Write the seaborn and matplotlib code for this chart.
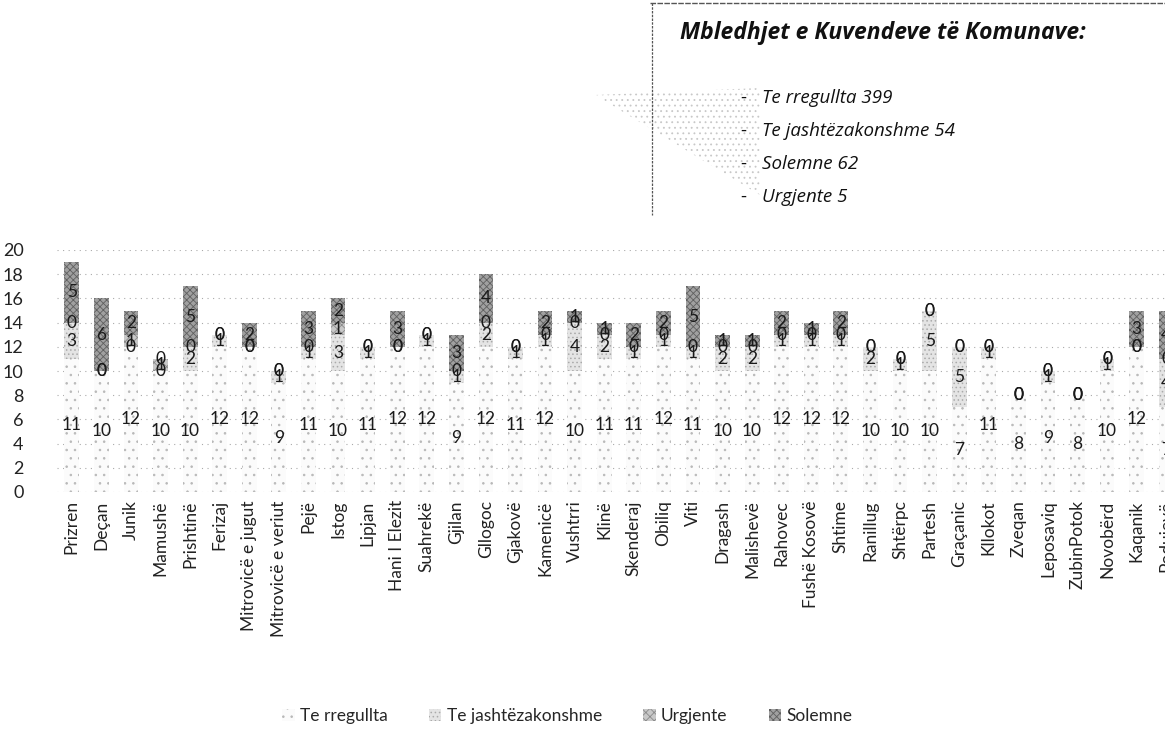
import numpy as np
import pandas as pd
import matplotlib.pyplot as plt
import seaborn as sns
from matplotlib.patches import Patch, Polygon
from matplotlib.lines import Line2D

komunat = ['Prizren', 'Deçan', 'Junik', 'Mamushë', 'Prishtinë', 'Ferizaj',
           'Mitrovicë e jugut', 'Mitrovicë e veriut', 'Pejë', 'Istog', 'Lipjan',
           'Hani I Elezit', 'Suahrekë', 'Gjilan', 'Gllogoc', 'Gjakovë', 'Kamenicë',
           'Vushtrri', 'Klinë', 'Skenderaj', 'Obiliq', 'Viti', 'Dragash',
           'Malishevë', 'Rahovec', 'Fushë Kosovë', 'Shtime', 'Ranillug', 'Shtërpc',
           'Partesh', 'Graçanic', 'Kllokot', 'Zveqan', 'Leposaviq', 'ZubinPotok',
           'Novobërd', 'Kaqanik', 'Podujevë']
te_rregullta = [11, 10, 12, 10, 10, 12, 12, 9, 11, 10, 11, 12, 12, 9, 12, 11, 12,
                10, 11, 11, 12, 11, 10, 10, 12, 12, 12, 10, 10, 10, 7, 11, 8, 9, 8,
                10, 12, 7]
te_jashtezakonshme = [3, 0, 0, 0, 2, 1, 0, 1, 1, 3, 1, 0, 1, 1, 2, 1, 1, 4, 2, 1,
                      1, 1, 2, 2, 1, 1, 1, 2, 1, 5, 5, 1, 0, 1, 0, 1, 0, 4]
urgjente = [0, 0, 1, 1, 0, 0, 0, 0, 0, 1, 0, 0, 0, 0, 0, 0, 0, 0, 0, 0, 0, 0, 0,
            0, 0, 0, 0, 0, 0, 0, 0, 0, 0, 0, 0, 0, 0, 0]
solemne = [5, 6, 2, 0, 5, 0, 2, 0, 3, 2, 0, 3, 0, 3, 4, 0, 2, 1, 1, 2, 2, 5, 1, 1,
           2, 1, 2, 0, 0, 0, 0, 0, 0, 0, 0, 0, 3, 4]

emrat = ['Te rregullta', 'Te jashtëzakonshme', 'Urgjente', 'Solemne']
ngjyrat = ['#fbfbfb', '#e4e4e4', '#c8c8c8', '#a0a0a0']
hatch_ngjyra = ['#b8b8b8', '#aaaaaa', '#8a8a8a', '#606060']
hatches = ['..', '....', 'xxxx', 'xxxxx']

df = pd.DataFrame({'komuna': komunat, 'Te rregullta': te_rregullta,
                   'Te jashtëzakonshme': te_jashtezakonshme,
                   'Urgjente': urgjente, 'Solemne': solemne})
cum = df[emrat].cumsum(axis=1)

sns.set_theme(style='white')
plt.rcParams['font.family'] = ['Lato', 'DejaVu Sans']
plt.rcParams['hatch.linewidth'] = 0.6

fig = plt.figure(figsize=(11.65, 7.31), dpi=100)
ax = fig.add_axes([57 / 1165, 1 - 492 / 731, 1124 / 1165, 242 / 731])

# stacked bars: draw cumulative totals from the top series down
for i in range(len(emrat) - 1, -1, -1):
    sns.barplot(x=df['komuna'], y=cum[emrat[i]], ax=ax, color=ngjyrat[i],
                width=0.5, edgecolor=hatch_ngjyra[i], linewidth=0,
                hatch=hatches[i], saturation=1, order=komunat)

# value labels at the middle of each segment
for j in range(len(komunat)):
    fund = 0
    for i, s in enumerate(emrat):
        v = df[s][j]
        ax.text(j, fund + v / 2, str(v), ha='center', va='center',
                fontsize=12.5, color='#1a1a1a')
        fund += v

ax.set_ylim(0, 20)
ax.set_xlim(-0.5, len(komunat) - 0.5)
ax.set_yticks(np.arange(0, 21, 2))
ax.set_xlabel('')
ax.set_ylabel('')
ax.set_xticks(range(len(komunat)))
ax.set_xticklabels(komunat, rotation=90, fontsize=12.5, color='#222222')
ax.tick_params(axis='y', labelsize=13, pad=24, colors='#222222', length=0)
ax.tick_params(axis='x', pad=6, length=0)
for lbl in ax.get_yticklabels():
    lbl.set_horizontalalignment('right')
sns.despine(ax=ax, left=True, bottom=True)
ax.yaxis.grid(True, linestyle=(0, (1, 4)), color='#aaaaaa', linewidth=0.8)
ax.set_axisbelow(True)

# legend at the bottom
handles = [Patch(facecolor=ngjyrat[i], edgecolor=hatch_ngjyra[i], hatch=hatches[i],
                 linewidth=0, label=emrat[i]) for i in range(4)]
fig.legend(handles=handles, loc='center', bbox_to_anchor=(0.487, 0.02), ncol=4,
           frameon=False, fontsize=12.5, handlelength=0.7, handleheight=0.7,
           handletextpad=0.3, columnspacing=2.4)

# note box in the top right
fig.add_artist(Line2D([650 / 1165, 1.0], [0.996, 0.996], color='#555555',
                      lw=1, linestyle=(0, (4, 1))))
fig.add_artist(Line2D([652 / 1165, 652 / 1165], [0.996, 1 - 215 / 731],
                      color='#555555', lw=0.9, linestyle=(0, (2, 1))))
fig.add_artist(Polygon([[595 / 1165, 1 - 95 / 731], [760 / 1165, 1 - 88 / 731],
                        [760 / 1165, 1 - 195 / 731]], closed=True,
                       transform=fig.transFigure, facecolor='none',
                       edgecolor='#c8c8c8', hatch='...', linewidth=0))
kutia_font = ['Open Sans', 'DejaVu Sans']
fig.text(680 / 1165, 1 - 33 / 731, 'Mbledhjet e Kuvendeve të Komunave:',
         fontsize=16.5, fontweight='bold', fontstyle='italic', va='center',
         color='#111111', family=kutia_font)
rreshtat = ['Te rregullta 399', 'Te jashtëzakonshme 54', 'Solemne 62', 'Urgjente 5']
for k, t in enumerate(rreshtat):
    y = 1 - (98 + k * 33) / 731
    fig.text(740 / 1165, y, '-', fontsize=13.5, va='center', color='#111111',
             family=kutia_font)
    fig.text(762 / 1165, y, t, fontsize=13.5, fontstyle='italic', va='center',
             color='#111111', family=kutia_font)

fig.savefig('out.png', dpi=100)
